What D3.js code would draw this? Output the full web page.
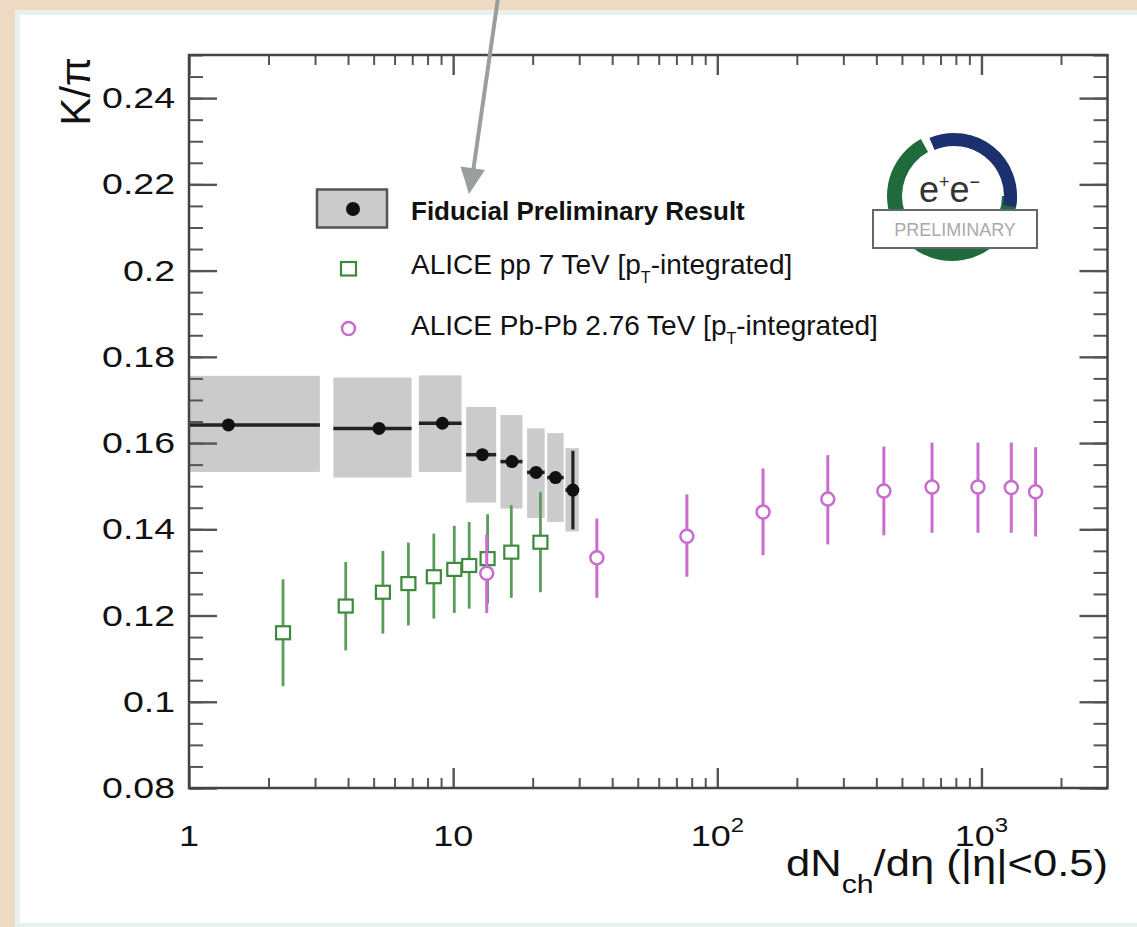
<!DOCTYPE html>
<html lang="en">
	<head>
		<meta charset="utf-8">
		<title>K/pi vs dNch/deta</title>
		<script type="text/javascript" src="https://cdn.jsdelivr.net/npm/d3@7"></script>
		<style type="text/css">
			body { margin: 0; background: #eedac3; }
			svg { display: block; }
		</style>
	</head>
	<body>
		<script type="text/javascript">

			//Size of the page
			var w = 1137;
			var h = 927;

			//Fiducial preliminary result (points, x bin edges, systematic band, stat error)
			var fidX     = [1.41, 5.24, 9.1, 12.9, 16.7, 20.6, 24.4, 28.4];
			var fidY     = [0.1642, 0.1634, 0.1646, 0.1573, 0.1557, 0.1532, 0.1520, 0.1491];
			var fidXLo   = [1.0, 3.52, 7.42, 11.2, 15.1, 19.05, 22.7, 26.6];
			var fidXHi   = [3.13, 6.96, 10.76, 14.55, 18.3, 22.2, 26.2, 29.9];
			var fidSysLo = [0.1533, 0.1520, 0.1533, 0.1462, 0.1448, 0.1426, 0.1417, 0.1395];
			var fidSysHi = [0.1756, 0.1752, 0.1757, 0.1684, 0.1665, 0.1634, 0.1623, 0.1588];
			var fidStat  = [0.001, 0.001, 0.001, 0.001, 0.001, 0.001, 0.001, 0.0091];

			//ALICE pp 7 TeV
			var ppX  = [2.27, 3.92, 5.42, 6.77, 8.45, 10.1, 11.5, 13.5, 16.6, 21.4];
			var ppY  = [0.1160, 0.1222, 0.1254, 0.1274, 0.1290, 0.1307, 0.1316, 0.1332, 0.1347, 0.1370];
			var ppLo = [0.1036, 0.1119, 0.1158, 0.1177, 0.1193, 0.1206, 0.1216, 0.1228, 0.1241, 0.1254];
			var ppHi = [0.1284, 0.1324, 0.1350, 0.1369, 0.1390, 0.1408, 0.1417, 0.1435, 0.1456, 0.1486];

			//ALICE Pb-Pb 2.76 TeV
			var pbX  = [13.4, 35.0, 76.7, 149, 262, 427, 650, 970, 1297, 1603];
			var pbY  = [0.1298, 0.1334, 0.1384, 0.1440, 0.1470, 0.1489, 0.1498, 0.1498, 0.1497, 0.1487];
			var pbLo = [0.1206, 0.1241, 0.1290, 0.1340, 0.1365, 0.1386, 0.1392, 0.1392, 0.1392, 0.1383];
			var pbHi = [0.1388, 0.1425, 0.1481, 0.1541, 0.1572, 0.1592, 0.1601, 0.1601, 0.1601, 0.1590];

			//Tick labels
			var xMajor = [1, 10, 100, 1000];
			var xTickBase = ["1", "10", "10", "10"];
			var xTickExp = ["", "", "2", "3"];
			var yMajor = [0.08, 0.10, 0.12, 0.14, 0.16, 0.18, 0.20, 0.22, 0.24];
			var yTickLabels = ["0.08", "0.1", "0.12", "0.14", "0.16", "0.18", "0.2", "0.22", "0.24"];

			var legendLabels = ["Fiducial Preliminary Result", "ALICE pp 7 TeV [p", "ALICE Pb-Pb 2.76 TeV [p"];

			var font = "'Liberation Sans', Arial, Helvetica, sans-serif";
			var green = "#3c8a3c";
			var greenBar = "#5a9d5a";
			var magenta = "#c96ccd";

			//Scales
			var xScale = d3.scaleLog()
							.domain([1, 3000])
							.range([189, 1107.5]);

			var yScale = d3.scaleLinear()
							.domain([0.08, 0.25])
							.range([788, 55]);

			//Minor tick positions
			var xMinor = [];
			[1, 10, 100, 1000].forEach(function(dec) {
				for (var k = 2; k <= 9; k++) {
					if (dec * k < 3000) xMinor.push(dec * k);
				}
			});
			var yMinor = d3.range(0.08, 0.2501, 0.005).map(function(d) {
				return Math.round(d * 1000) / 1000;
			});

			//Create SVG
			var svg = d3.select("body")
						.append("svg")
						.attr("width", w)
						.attr("height", h);

			//Background and white slide panel
			svg.append("rect")
				.attr("width", w)
				.attr("height", h)
				.attr("fill", "#eedac3");
			svg.append("rect")
				.attr("x", 15)
				.attr("y", 10)
				.attr("width", w)
				.attr("height", h)
				.attr("fill", "#e9f1ef");
			svg.append("rect")
				.attr("x", 20)
				.attr("y", 15)
				.attr("width", w)
				.attr("height", 908)
				.attr("fill", "white");

			//Clip to the frame
			svg.append("clipPath")
				.attr("id", "frame")
				.append("rect")
				.attr("x", 189)
				.attr("y", 55)
				.attr("width", 1107.5 - 189)
				.attr("height", 788 - 55);

			var plot = svg.append("g").attr("clip-path", "url(#frame)");

			//Systematic boxes
			plot.selectAll(".sys")
				.data(d3.range(fidX.length))
				.enter()
				.append("rect")
				.attr("x", function(i) { return xScale(fidXLo[i]); })
				.attr("width", function(i) { return xScale(fidXHi[i]) - xScale(fidXLo[i]); })
				.attr("y", function(i) { return yScale(fidSysHi[i]); })
				.attr("height", function(i) { return yScale(fidSysLo[i]) - yScale(fidSysHi[i]); })
				.attr("fill", "#cbcbcb");

			//pp error bars and squares
			plot.selectAll(".ppBar")
				.data(d3.range(ppX.length))
				.enter()
				.append("line")
				.attr("x1", function(i) { return xScale(ppX[i]); })
				.attr("x2", function(i) { return xScale(ppX[i]); })
				.attr("y1", function(i) { return yScale(ppLo[i]); })
				.attr("y2", function(i) { return yScale(ppHi[i]); })
				.attr("stroke", greenBar)
				.attr("stroke-width", 2.8);

			plot.selectAll(".ppMark")
				.data(d3.range(ppX.length))
				.enter()
				.append("rect")
				.attr("x", function(i) { return xScale(ppX[i]) - 7; })
				.attr("y", function(i) { return yScale(ppY[i]) - 6.5; })
				.attr("width", 14)
				.attr("height", 13)
				.attr("fill", "white")
				.attr("stroke", green)
				.attr("stroke-width", 2.2);

			//Pb-Pb error bars and circles
			plot.selectAll(".pbBar")
				.data(d3.range(pbX.length))
				.enter()
				.append("line")
				.attr("x1", function(i) { return xScale(pbX[i]); })
				.attr("x2", function(i) { return xScale(pbX[i]); })
				.attr("y1", function(i) { return yScale(pbLo[i]); })
				.attr("y2", function(i) { return yScale(pbHi[i]); })
				.attr("stroke", magenta)
				.attr("stroke-width", 3);

			plot.selectAll(".pbMark")
				.data(d3.range(pbX.length))
				.enter()
				.append("circle")
				.attr("cx", function(i) { return xScale(pbX[i]); })
				.attr("cy", function(i) { return yScale(pbY[i]); })
				.attr("r", 6.5)
				.attr("fill", "white")
				.attr("stroke", magenta)
				.attr("stroke-width", 2.5);

			//Fiducial points: x bin lines, stat bars, dots
			plot.selectAll(".fidH")
				.data(d3.range(fidX.length))
				.enter()
				.append("line")
				.attr("x1", function(i) { return xScale(fidXLo[i]); })
				.attr("x2", function(i) { return xScale(fidXHi[i]); })
				.attr("y1", function(i) { return yScale(fidY[i]); })
				.attr("y2", function(i) { return yScale(fidY[i]); })
				.attr("stroke", "#222")
				.attr("stroke-width", 3.5);

			plot.selectAll(".fidV")
				.data(d3.range(fidX.length))
				.enter()
				.append("line")
				.attr("x1", function(i) { return xScale(fidX[i]); })
				.attr("x2", function(i) { return xScale(fidX[i]); })
				.attr("y1", function(i) { return yScale(fidY[i] - fidStat[i]); })
				.attr("y2", function(i) { return yScale(fidY[i] + fidStat[i]); })
				.attr("stroke", "#222")
				.attr("stroke-width", 3.2);

			plot.selectAll(".fidDot")
				.data(d3.range(fidX.length))
				.enter()
				.append("circle")
				.attr("cx", function(i) { return xScale(fidX[i]); })
				.attr("cy", function(i) { return yScale(fidY[i]); })
				.attr("r", 6.5)
				.attr("fill", "#111");

			//Axes, ROOT style: ticks inside on all four sides
			function styleAxis(g, width) {
				g.select(".domain").remove();
				g.selectAll("line").attr("stroke", "#555").attr("stroke-width", width);
			}

			svg.append("g")
				.attr("transform", "translate(0,788)")
				.call(d3.axisBottom(xScale).tickValues(xMajor).tickSize(-20).tickFormat(""))
				.call(styleAxis, 2.4);
			svg.append("g")
				.attr("transform", "translate(0,788)")
				.call(d3.axisBottom(xScale).tickValues(xMinor).tickSize(-10).tickFormat(""))
				.call(styleAxis, 2);
			svg.append("g")
				.attr("transform", "translate(0,55)")
				.call(d3.axisTop(xScale).tickValues(xMajor).tickSize(-20).tickFormat(""))
				.call(styleAxis, 2.4);
			svg.append("g")
				.attr("transform", "translate(0,55)")
				.call(d3.axisTop(xScale).tickValues(xMinor).tickSize(-10).tickFormat(""))
				.call(styleAxis, 2);

			svg.append("g")
				.attr("transform", "translate(189,0)")
				.call(d3.axisLeft(yScale).tickValues(yMinor).tickSize(-14).tickFormat(""))
				.call(styleAxis, 2);
			svg.append("g")
				.attr("transform", "translate(1107.5,0)")
				.call(d3.axisRight(yScale).tickValues(yMinor).tickSize(-14).tickFormat(""))
				.call(styleAxis, 2);
			svg.append("g")
				.attr("transform", "translate(1107.5,0)")
				.call(d3.axisRight(yScale).tickValues(yMajor).tickSize(-28).tickFormat(""))
				.call(styleAxis, 2.4);

			var yAxis = svg.append("g")
				.attr("transform", "translate(189,0)")
				.call(d3.axisLeft(yScale)
						.tickValues(yMajor)
						.tickSize(-28)
						.tickPadding(14)
						.tickFormat(function(d, i) { return yTickLabels[i]; }))
				.call(styleAxis, 2.4)
				.attr("font-family", font)
				.attr("font-size", 30);
			yAxis.selectAll("text")
				.attr("fill", "#111")
				.attr("x", -14 / 1.25)
				.attr("transform", "scale(1.25,1)");

			//Frame
			svg.append("rect")
				.attr("x", 189)
				.attr("y", 55)
				.attr("width", 1107.5 - 189)
				.attr("height", 788 - 55)
				.attr("fill", "none")
				.attr("stroke", "#444")
				.attr("stroke-width", 2.5);

			//x tick labels with powers of ten
			var xLab = svg.selectAll(".xlab")
				.data(xMajor)
				.enter()
				.append("text")
				.attr("transform", function(d) {
					return "translate(" + xScale(d) + ",846) scale(1.2,1)";
				})
				.attr("text-anchor", "middle")
				.attr("font-family", font)
				.attr("font-size", 30)
				.attr("fill", "#111");
			xLab.append("tspan")
				.text(function(d, i) { return xTickBase[i]; });
			xLab.append("tspan")
				.attr("font-size", 20)
				.attr("dy", -14)
				.text(function(d, i) { return xTickExp[i]; });

			//Axis titles
			var xTitle = svg.append("text")
				.attr("transform", "translate(1108,876) scale(1.21,1)")
				.attr("text-anchor", "end")
				.attr("font-family", font)
				.attr("font-size", 36)
				.attr("fill", "#111");
			xTitle.append("tspan").text("dN");
			xTitle.append("tspan").attr("font-size", 25).attr("dy", 17).text("ch");
			xTitle.append("tspan").attr("dy", -17).text("/dη (|η|<0.5)");

			svg.append("text")
				.attr("transform", "translate(90,57) rotate(-90)")
				.attr("text-anchor", "end")
				.attr("font-family", font)
				.attr("font-size", 42)
				.attr("fill", "#111")
				.text("K/π");

			//Legend
			svg.append("rect")
				.attr("x", 317)
				.attr("y", 189.5)
				.attr("width", 70)
				.attr("height", 38)
				.attr("fill", "#cbcbcb")
				.attr("stroke", "#555")
				.attr("stroke-width", 2.5);
			svg.append("circle")
				.attr("cx", 353)
				.attr("cy", 209)
				.attr("r", 7)
				.attr("fill", "#111");
			svg.append("rect")
				.attr("x", 341)
				.attr("y", 262)
				.attr("width", 15)
				.attr("height", 13.5)
				.attr("fill", "white")
				.attr("stroke", green)
				.attr("stroke-width", 2.2);
			svg.append("circle")
				.attr("cx", 348.5)
				.attr("cy", 328.5)
				.attr("r", 6.5)
				.attr("fill", "white")
				.attr("stroke", magenta)
				.attr("stroke-width", 2.5);

			svg.append("text")
				.attr("x", 411)
				.attr("y", 220)
				.attr("font-family", font)
				.attr("font-weight", "bold")
				.attr("font-size", 26)
				.attr("fill", "#111")
				.text(legendLabels[0]);

			[1, 2].forEach(function(k) {
				var t = svg.append("text")
					.attr("x", 411)
					.attr("y", k === 1 ? 273.5 : 335)
					.attr("font-family", font)
					.attr("font-size", 28)
					.attr("fill", "#111");
				t.append("tspan").text(legendLabels[k]);
				t.append("tspan").attr("font-size", 16).attr("dy", 9).text("T");
				t.append("tspan").attr("dy", -9).text("-integrated]");
			});

			//Arrow pointing at the legend
			svg.append("line")
				.attr("x1", 498)
				.attr("y1", -2)
				.attr("x2", 473)
				.attr("y2", 172)
				.attr("stroke", "#9a9e9e")
				.attr("stroke-width", 4);
			svg.append("polygon")
				.attr("points", "469,194 485,170 460.5,166.5")
				.attr("fill", "#9a9e9e");

			//e+e- preliminary logo
			var logo = svg.append("g").attr("transform", "translate(952,196)");
			var arc = d3.arc();
			logo.append("path")
				.attr("d", arc({ innerRadius: 50, outerRadius: 65, startAngle: Math.PI / 2, endAngle: 2 * Math.PI - 0.5 }))
				.attr("fill", "#1f6b3c");
			logo.append("path")
				.attr("transform", "translate(2,0)")
				.attr("d", arc({ innerRadius: 50, outerRadius: 63, startAngle: -0.4, endAngle: 1.75 }))
				.attr("fill", "#1c2f6e");
			var ee = logo.append("text")
				.attr("x", -33)
				.attr("y", 6)
				.attr("font-family", font)
				.attr("font-size", 36)
				.attr("fill", "#333");
			ee.append("tspan").text("e");
			ee.append("tspan").attr("font-size", 18).attr("dy", -14).text("+");
			ee.append("tspan").attr("dy", 14).text("e");
			ee.append("tspan").attr("font-size", 18).attr("dy", -14).text("−");
			logo.append("rect")
				.attr("x", -79)
				.attr("y", 14)
				.attr("width", 164)
				.attr("height", 38)
				.attr("fill", "white")
				.attr("stroke", "#666")
				.attr("stroke-width", 2);
			logo.append("text")
				.attr("x", 3)
				.attr("y", 40)
				.attr("text-anchor", "middle")
				.attr("font-family", font)
				.attr("font-size", 18)
				.attr("fill", "#aaa")
				.text("PRELIMINARY");

		</script>
	</body>
</html>
